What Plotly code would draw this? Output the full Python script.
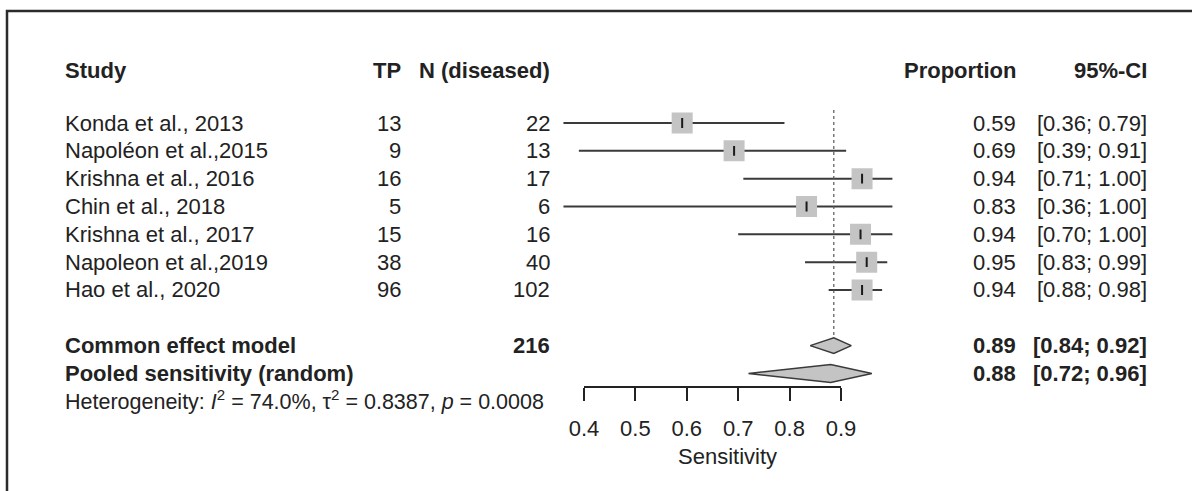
import plotly.graph_objects as go

# ---------------- data ----------------
studies = ["Konda et al., 2013", "Napoléon et al.,2015", "Krishna et al., 2016",
           "Chin et al., 2018", "Krishna et al., 2017", "Napoleon et al.,2019",
           "Hao et al., 2020"]
tp = [13, 9, 16, 5, 15, 38, 96]
n_diseased = [22, 13, 17, 6, 16, 40, 102]
proportion = [0.591, 0.692, 0.941, 0.833, 0.938, 0.950, 0.941]
ci_lower = [0.36, 0.39, 0.71, 0.36, 0.70, 0.83, 0.876]
ci_upper = [0.79, 0.91, 1.00, 1.00, 1.00, 0.99, 0.98]

common_label = "Common effect model"
common_n = 216
common_est, common_lo, common_hi = 0.886, 0.84, 0.92
random_label = "Pooled sensitivity (random)"
random_est, random_lo, random_hi = 0.88, 0.72, 0.96
heterogeneity = "Heterogeneity: <i>I</i><sup>2</sup> = 74.0%, τ<sup>2</sup> = 0.8387, <i>p</i> = 0.0008"

tick_vals = [0.4, 0.5, 0.6, 0.7, 0.8, 0.9]
tick_text = ["0.4", "0.5", "0.6", "0.7", "0.8", "0.9"]
x_title = "Sensitivity"
headers = ["Study", "TP", "N (diseased)", "Proportion", "95%-CI"]

W, H = 1192, 491
FONT = "Liberation Sans, Arial, Helvetica, sans-serif"
TXT = "#222222"
FS = 22

row_study = list(range(len(studies)))
row_header = -1.9
row_common = 8
row_random = 9
row_het = 9.95

def px(p):
    return p / W

fig = go.Figure()

# confidence intervals
for i in range(len(studies)):
    fig.add_trace(go.Scatter(x=[ci_lower[i], ci_upper[i]], y=[row_study[i]] * 2,
                             mode="lines", line=dict(color="#3a3a3a", width=2),
                             hoverinfo="skip", showlegend=False))
# study squares
fig.add_trace(go.Scatter(x=proportion, y=row_study, mode="markers",
                         marker=dict(symbol="square", size=21, color="#c4c4c4",
                                     line=dict(width=0)),
                         hoverinfo="skip", showlegend=False))
# point marks
fig.add_trace(go.Scatter(x=proportion, y=row_study, mode="markers",
                         marker=dict(symbol="line-ns", size=7,
                                     line=dict(color="#1a1a1a", width=2)),
                         hoverinfo="skip", showlegend=False))

def diamond(lo, est, hi, row, h=0.3):
    return go.Scatter(x=[lo, est, hi, est, lo], y=[row, row - h, row, row + h, row],
                      mode="lines", fill="toself", fillcolor="#c4c4c4",
                      line=dict(color="#3a3a3a", width=1.5),
                      hoverinfo="skip", showlegend=False)

fig.add_trace(diamond(common_lo, common_est, common_hi, row_common, 0.28))
fig.add_trace(diamond(random_lo, random_est, random_hi, row_random, 0.32))

# invisible trace so that the visible axis (x2) is drawn
fig.add_trace(go.Scatter(x=[tick_vals[0], tick_vals[-1]], y=[row_het, row_het],
                         xaxis="x2", yaxis="y", mode="markers",
                         marker=dict(opacity=0), hoverinfo="skip", showlegend=False))

# dashed line at the common-effect estimate
fig.add_shape(type="line", xref="x", yref="y", x0=common_est, x1=common_est,
              y0=-0.47, y1=row_common - 0.38,
              line=dict(color="#555555", width=1.2, dash="3px,3px"))

# surrounding (cropped) frame
fig.add_shape(type="rect", xref="paper", yref="paper",
              x0=px(7), x1=1.02, y0=-0.02, y1=1 - 11 / H,
              line=dict(color="#2b2b2b", width=2.5))

ann = []
def add_text(text, xpix, row, anchor, bold=False, size=FS):
    t = f"<b>{text}</b>" if bold else text
    ann.append(dict(text=t, x=px(xpix), xref="paper", y=row, yref="y",
                    xanchor=anchor, yanchor="middle", showarrow=False,
                    font=dict(family=FONT, size=size, color=TXT)))

col_study, col_tp, col_n, col_prop, col_ci = 63, 403, 552, 1018, 1149

add_text(headers[0], col_study, row_header, "left", True)
add_text(headers[1], col_tp, row_header, "right", True)
add_text(headers[2], col_n, row_header, "right", True)
add_text(headers[3], col_prop, row_header, "right", True)
add_text(headers[4], col_ci, row_header, "right", True)

for i, s in enumerate(studies):
    r = row_study[i]
    add_text(s, col_study, r, "left")
    add_text(str(tp[i]), col_tp, r, "right")
    add_text(str(n_diseased[i]), col_n, r, "right")
    add_text(f"{proportion[i]:.2f}", col_prop, r, "right")
    add_text(f"[{ci_lower[i]:.2f}; {ci_upper[i]:.2f}]", col_ci, r, "right")

add_text(common_label, col_study, row_common, "left", True)
add_text(str(common_n), col_n, row_common, "right", True)
add_text(f"{common_est:.2f}", col_prop, row_common, "right", True)
add_text(f"[{common_lo:.2f}; {common_hi:.2f}]", col_ci, row_common, "right", True)

add_text(random_label, col_study, row_random, "left", True)
add_text(f"{random_est:.2f}", col_prop, row_random, "right", True)
add_text(f"[{random_lo:.2f}; {random_hi:.2f}]", col_ci, row_random, "right", True)

add_text(heterogeneity, col_study, row_het, "left", False, 21.5)
add_text(x_title, 727, 12, "center")

# pixel mapping: 0.4 -> 584 px, 0.9 -> 841 px
x_lo_px, x_hi_px = 584, 841
ppu = (x_hi_px - x_lo_px) / (0.9 - 0.4)
r0, r1 = 0.3, 1.1
d0 = (x_lo_px + (r0 - 0.4) * ppu) / W
d1 = (x_lo_px + (r1 - 0.4) * ppu) / W

row_px0, row_step = 123, 27.83
y_top = (0 - row_px0) / row_step
y_bot = (H - row_px0) / row_step

fig.update_layout(
    width=W, height=H,
    margin=dict(l=0, r=0, t=0, b=0, pad=0, autoexpand=False),
    paper_bgcolor="white", plot_bgcolor="rgba(0,0,0,0)",
    xaxis=dict(domain=[d0, d1], range=[r0, r1], visible=False, fixedrange=True,
               automargin=False),
    yaxis=dict(domain=[0, 1], range=[y_bot, y_top], visible=False, fixedrange=True,
               automargin=False),
    xaxis2=dict(domain=[x_lo_px / W, x_hi_px / W], range=[0.4, 0.9],
                anchor="free", position=1 - 387 / H, automargin=False,
                tickmode="array", tickvals=tick_vals, ticktext=tick_text,
                showline=True, linecolor="#222222", linewidth=2,
                ticks="outside", ticklen=13, tickwidth=2, tickcolor="#222222",
                tickfont=dict(family=FONT, size=FS, color=TXT),
                ticklabelstandoff=9,
                showgrid=False, zeroline=False, fixedrange=True),
    annotations=ann,
    showlegend=False,
)

fig.write_html(
    "out.html",
    config={"responsive": False, "displayModeBar": False},
    post_script="document.body.style.margin='0';document.body.style.overflow='hidden';",
)
